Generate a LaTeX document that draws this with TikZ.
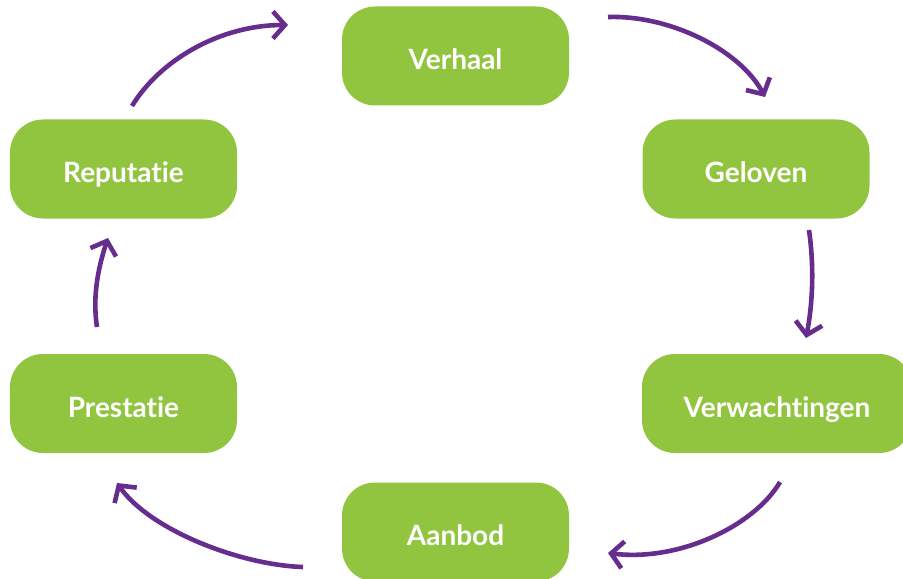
\documentclass[tikz,border=0pt]{standalone}
\usepackage{fontspec}
\setsansfont{Lato}[Ligatures={NoCommon}]
\usetikzlibrary{arrows.meta}
\definecolor{boxgreen}{HTML}{92C53F}
\definecolor{arrowpurple}{HTML}{662D8F}
\tikzset{
  stepbox/.style={fill=boxgreen, draw=none, rounded corners=33bp, minimum height=99bp,
    minimum width=227bp, text=white, font=\sffamily\bfseries\fontsize{28bp}{32bp}\selectfont,
    text height=27bp, text depth=0pt, inner sep=0pt},
  cyclearrow/.style={draw=arrowpurple, line width=4.6bp,
    -{Straight Barb[length=12bp,width=27bp]}}
}
\begin{document}
\begin{tikzpicture}[x=1bp,y=-1bp]
\useasboundingbox (0,0) rectangle (903,579);
\node[stepbox] (verhaal) at (455.5,56) {Verhaal};
\node[stepbox] (geloven) at (756,169) {Geloven};
\node[stepbox, minimum width=270bp] (verw) at (777,403.5) {Verwachtingen};
\node[stepbox] (aanbod) at (455.5,532) {Aanbod};
\node[stepbox] (prestatie) at (123.5,403.5) {Prestatie};
\node[stepbox] (reputatie) at (123.5,169) {Reputatie};

\coordinate (a1s) at (608,17);  \coordinate (a1e) at (765,97);
\coordinate (a2s) at (809,230); \coordinate (a2e) at (806,338);
\coordinate (a3s) at (780,482); \coordinate (a3e) at (608,553);
\coordinate (a4s) at (303,567); \coordinate (a4e) at (117,483);
\coordinate (a5s) at (97,327);  \coordinate (a5e) at (108,238);
\coordinate (a6s) at (132,106); \coordinate (a6e) at (288,25);

\draw[cyclearrow] (a1s) .. controls (670,15) and (740,50) .. (a1e);
\draw[cyclearrow] (a2s) .. controls (814,265) and (813,302) .. (a2e);
\draw[cyclearrow] (a3s) .. controls (755,525) and (680,562) .. (a3e);
\draw[cyclearrow] (a4s) .. controls (240,565) and (150,530) .. (a4e);
\draw[cyclearrow] (a5s) .. controls (92,295) and (99,265) .. (a5e);
\draw[cyclearrow] (a6s) .. controls (160,60) and (220,25) .. (a6e);
\end{tikzpicture}
\end{document}
